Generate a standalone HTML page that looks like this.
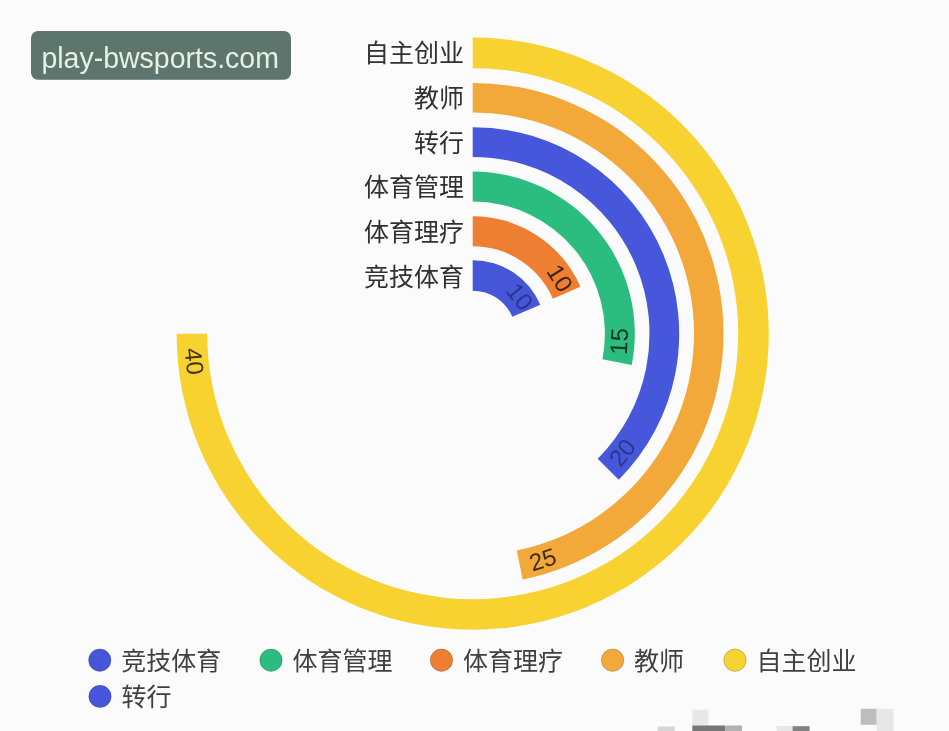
<!DOCTYPE html>
<html lang="zh"><head><meta charset="utf-8"><title>chart</title>
<style>
html,body{margin:0;padding:0;background:#fbfbfb;}
body{width:949px;height:731px;overflow:hidden;position:relative;font-family:"Liberation Sans","Noto Sans CJK SC",sans-serif;}
svg{position:absolute;left:0;top:0;display:block}
.cat{font-size:25px;fill:#303030;text-anchor:end}
.leg{font-size:25px;fill:#404040}
.val{font-size:24px;fill:#000;text-anchor:middle}
</style></head><body>
<svg width="949" height="731" viewBox="0 0 949 731" font-family="'Liberation Sans','Noto Sans CJK SC',sans-serif">
<rect width="949" height="731" fill="#fbfbfb"/>
<rect x="692.3" y="709.7" width="16" height="15.8" fill="#e9e7e9"/>
<rect x="692.3" y="725.5" width="33" height="6" fill="#777"/>
<rect x="725.2" y="725.5" width="16.8" height="6" fill="#b2b2b2"/>
<rect x="657.7" y="726.5" width="17" height="5" fill="#d6d6d6"/>
<rect x="776.6" y="726" width="16" height="5" fill="#e8e6e6"/>
<rect x="792.6" y="726.2" width="17" height="5" fill="#818181"/>
<rect x="860.7" y="708.8" width="16" height="16" fill="#bdbdbd"/>
<rect x="876.7" y="708.8" width="16.8" height="23" fill="#e7e7e7"/>
<path d="M472.70,260.20A73.5,73.5 0 0 1 540.31,304.86L512.25,316.83A43.0,43.0 0 0 0 472.70,290.70Z" fill="#4556d9"/>
<path d="M472.70,216.20A117.5,117.5 0 0 1 580.37,286.66L552.88,298.67A87.5,87.5 0 0 0 472.70,246.20Z" fill="#ee7e31"/>
<path d="M472.70,171.60A162.1,162.1 0 0 1 631.77,364.91L602.43,359.15A132.2,132.2 0 0 0 472.70,201.50Z" fill="#2bbd80"/>
<path d="M472.70,127.20A206.5,206.5 0 0 1 618.72,479.72L597.72,458.72A176.8,176.8 0 0 0 472.70,156.90Z" fill="#4657db"/>
<path d="M472.70,82.90A250.8,250.8 0 0 1 522.70,579.47L516.82,550.56A221.3,221.3 0 0 0 472.70,112.40Z" fill="#f3a83a"/>
<path d="M472.70,37.60A296.1,296.1 0 1 1 176.60,333.70L207.20,333.70A265.5,265.5 0 1 0 472.70,68.20Z" fill="#f8d231"/>
<text class="cat" x="464" y="285.6">竞技体育</text>
<text class="cat" x="464" y="240.7">体育理疗</text>
<text class="cat" x="464" y="196.2">体育管理</text>
<text class="cat" x="464" y="151.6">转行</text>
<text class="cat" x="464" y="106.9">教师</text>
<text class="cat" x="464" y="61.9">自主创业</text>
<text class="val" fill-opacity="0.38" transform="translate(520.10,296.40) rotate(51.80)" y="8.6">10</text>
<text class="val" fill-opacity="0.72" transform="translate(560.10,278.00) rotate(57.49)" y="8.6">10</text>
<text class="val" fill-opacity="0.72" transform="translate(618.80,341.40) rotate(273.02)" y="8.6">15</text>
<text class="val" fill-opacity="0.38" transform="translate(622.10,452.40) rotate(308.47)" y="8.6">20</text>
<text class="val" fill-opacity="0.75" transform="translate(542.80,559.20) rotate(342.73)" y="8.6">25</text>
<text class="val" fill-opacity="0.75" transform="translate(194.50,361.30) rotate(444.33)" y="8.6">40</text>
<circle cx="99.8" cy="660.2" r="11.2" fill="#4556d9" stroke="#000" stroke-opacity=".2" stroke-width="1"/>
<text class="leg" x="121.19999999999999" y="669.6">竞技体育</text>
<circle cx="271" cy="660.2" r="11.2" fill="#2bbd80" stroke="#000" stroke-opacity=".2" stroke-width="1"/>
<text class="leg" x="292.4" y="669.6">体育管理</text>
<circle cx="441.5" cy="660.2" r="11.2" fill="#ee7e31" stroke="#000" stroke-opacity=".2" stroke-width="1"/>
<text class="leg" x="462.9" y="669.6">体育理疗</text>
<circle cx="612.6" cy="660.2" r="11.2" fill="#f3a83a" stroke="#000" stroke-opacity=".2" stroke-width="1"/>
<text class="leg" x="634.0" y="669.6">教师</text>
<circle cx="735" cy="660.2" r="11.2" fill="#f8d231" stroke="#000" stroke-opacity=".2" stroke-width="1"/>
<text class="leg" x="756.4" y="669.6">自主创业</text>
<circle cx="100" cy="696.4" r="11.2" fill="#4657db" stroke="#000" stroke-opacity=".2" stroke-width="1"/>
<text class="leg" x="121.4" y="705.8">转行</text>
<rect x="31" y="31" width="260" height="48.8" rx="7" ry="7" fill="#5e756d"/>
<text x="41.4" y="68.3" font-size="29.5" fill="#e6f1e2" textLength="237.5" lengthAdjust="spacingAndGlyphs">play-bwsports.com</text>
</svg></body></html>
